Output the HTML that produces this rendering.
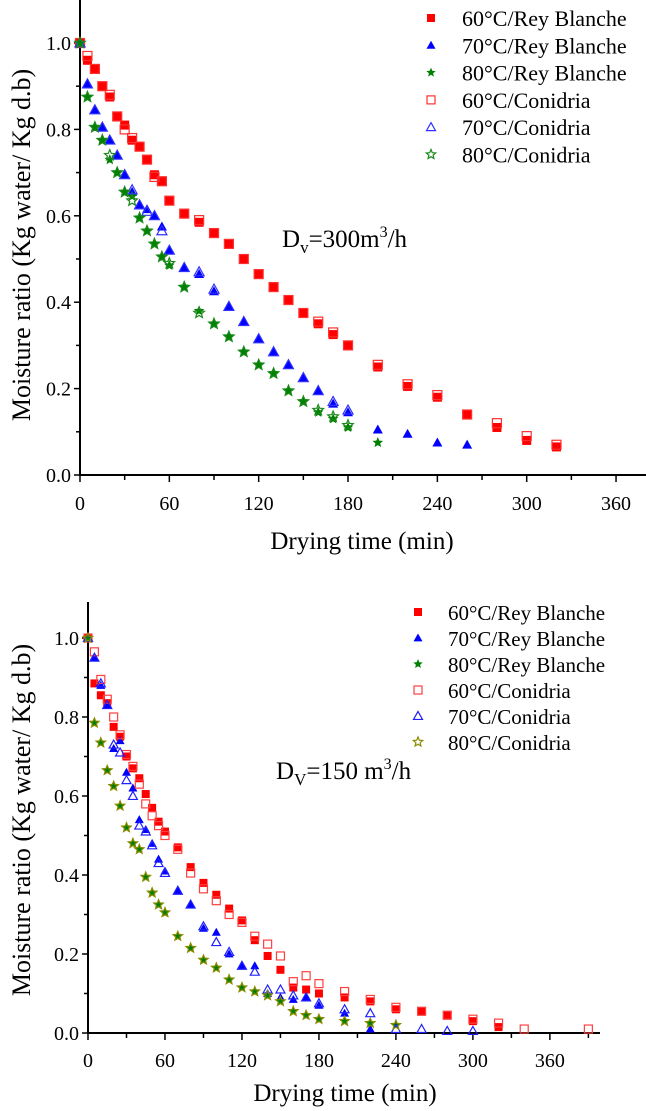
<!DOCTYPE html>
<html><head><meta charset="utf-8">
<style>
html,body{margin:0;padding:0;background:#fff;}
svg{display:block;font-family:"Liberation Serif",serif;}
</style></head>
<body>
<svg id="chart" width="646" height="1111" viewBox="0 0 646 1111" xmlns="http://www.w3.org/2000/svg"></svg>
<script>
// ---- Top panel data (Dv=300 m3/h) ----
const topT60 = [0,5,10,15,20,25,30,35,40,45,50,55,60,70,80,90,100,110,120,130,140,150,160,170,180,200,220,240,260,280,300,320];
const topRB60 = [1.0,.96,.94,.90,.875,.83,.81,.775,.76,.73,.695,.68,.635,.605,.585,.56,.535,.50,.465,.435,.405,.375,.35,.325,.30,.25,.205,.18,.14,.11,.08,.065];
const topCo60 = [1.0,.97,.94,.90,.88,.83,.80,.78,.76,.73,.69,.68,.635,.605,.59,.56,.535,.50,.465,.435,.405,.375,.355,.33,.30,.255,.21,.185,.14,.12,.09,.07];
const topT70 = [0,5,10,15,20,25,30,35,40,45,50,55,60,70,80,90,100,110,120,130,140,150,160,170,180,200,220,240,260];
const topRB70 = [1.0,.905,.845,.805,.775,.74,.695,.655,.625,.615,.60,.575,.52,.48,.465,.425,.39,.355,.315,.285,.255,.225,.195,.165,.145,.105,.095,.075,.07];
const topCo70 = [1.0,.905,.845,.805,.775,.74,.695,.66,.625,.61,.60,.565,.52,.48,.47,.43,.39,.355,.315,.285,.255,.225,.195,.17,.15];
const topT80 = [0,5,10,15,20,25,30,35,40,45,50,55,60,70,80,90,100,110,120,130,140,150,160,170,180,200];
const topRB80 = [1.0,.875,.805,.775,.73,.70,.655,.645,.595,.565,.535,.505,.485,.435,.38,.35,.32,.285,.255,.235,.195,.17,.145,.13,.11,.075];
const topCo80 = [1.0,.875,.805,.775,.74,.70,.655,.635,.595,.565,.535,.505,.49,.435,.375,.35,.32,.285,.255,.235,.195,.17,.15,.135,.115];

// ---- Bottom panel data (Dv=150 m3/h) ----
const botTRB60 = [0,5,10,15,20,25,30,35,40,45,50,55,60,70,80,90,100,110,120,130,140,150,160,170,180,200,220,240,260,280,300,320];
const botRB60 = [1.0,.885,.855,.835,.775,.75,.70,.67,.645,.605,.57,.535,.51,.47,.42,.38,.35,.315,.285,.235,.195,.16,.115,.11,.10,.09,.08,.06,.055,.045,.03,.015];
const botTCo60 = [0,5,10,15,20,25,30,35,40,45,50,55,60,70,80,90,100,110,120,130,140,150,160,170,180,200,220,240,260,280,300,320,340,390];
const botCo60 = [1.0,.965,.895,.845,.80,.755,.705,.675,.63,.58,.55,.525,.50,.465,.405,.365,.335,.30,.28,.245,.225,.195,.13,.145,.125,.105,.085,.065,.055,.045,.035,.025,.01,.01];
const botTRB70 = [0,5,10,15,20,25,30,35,40,45,50,55,60,70,80,90,100,110,120,130,140,150,160,170,180,200,220];
const botRB70 = [1.0,.95,.88,.83,.72,.74,.66,.62,.54,.515,.48,.44,.41,.36,.325,.265,.255,.20,.17,.17,.10,.09,.085,.09,.07,.05,.01];
const botTCo70 = [0,5,10,15,20,25,30,35,40,45,50,55,60,70,80,90,100,110,120,130,140,150,160,170,180,200,220,240,260,280,300];
const botCo70 = [1.0,.95,.885,.83,.73,.71,.64,.60,.525,.51,.475,.43,.405,.36,.325,.27,.23,.205,.17,.155,.11,.11,.095,.09,.075,.06,.05,.01,.01,.005,.005];
const botT80 = [0,5,10,15,20,25,30,35,40,45,50,55,60,70,80,90,100,110,120,130,140,150,160,170,180,200,220,240];
const botRB80 = [1.0,.785,.735,.665,.625,.575,.52,.48,.465,.395,.355,.325,.305,.245,.215,.185,.165,.135,.115,.105,.095,.08,.055,.045,.035,.03,.025,.02];
const botCo80 = [1.0,.785,.735,.665,.625,.575,.52,.48,.465,.395,.355,.325,.305,.245,.215,.185,.165,.135,.115,.105,.095,.08,.055,.045,.035,.03,.025,.02];

const xTicks = [0,60,120,180,240,300,360];
const yTicks = [0.0,0.2,0.4,0.6,0.8,1.0];
const legendLabels = ["60°C/Rey Blanche","70°C/Rey Blanche","80°C/Rey Blanche","60°C/Conidria","70°C/Conidria","80°C/Conidria"];

const NS = "http://www.w3.org/2000/svg";
const svg = document.getElementById('chart');
function mk(tag, attrs, parent){
  const e = document.createElementNS(NS, tag);
  for (const k in attrs) e.setAttribute(k, attrs[k]);
  (parent||svg).appendChild(e);
  return e;
}
function starPts(cx,cy,r){
  let p=[];
  for(let i=0;i<10;i++){
    const a=-Math.PI/2+i*Math.PI/5, rr=(i%2?r*0.45:r);
    p.push((cx+rr*Math.cos(a)).toFixed(1)+","+(cy+rr*Math.sin(a)).toFixed(1));
  }
  return p.join(" ");
}
function marker(g, type, cx, cy, s, color, filled, name){
  let e;
  if(type==='sq'){
    e = mk('rect',{x:cx-s/2,y:cy-s/2,width:s,height:s},g);
  } else if(type==='tri'){
    const h=s*0.95;
    e = mk('polygon',{points:`${cx},${cy-h*0.6} ${cx-s/2-0.5},${cy+h*0.45} ${cx+s/2+0.5},${cy+h*0.45}`},g);
  } else {
    e = mk('polygon',{points:starPts(cx,cy,s*0.62)},g);
  }
  if(filled){ e.setAttribute('fill',color); e.setAttribute('stroke','none'); }
  else { e.setAttribute('fill','none'); e.setAttribute('stroke',color); e.setAttribute('stroke-width','1.2'); }
  
  
  return e;
}

function panel(cfg){
  const g = mk('g',{});
  
  
  const X = t => cfg.x0 + t*cfg.xs;
  const Y = v => cfg.y0 - v*cfg.ys;
  const ax = mk('path',{d:`M${cfg.x0},${cfg.yTop} L${cfg.x0},${cfg.y0} L${cfg.xRight},${cfg.y0}`,fill:'none',stroke:'#000','stroke-width':2},g);
  
  
  for(let t=0;t<=cfg.xMax;t+=30){
    const major = t%60===0;
    mk('line',{x1:X(t),x2:X(t),y1:cfg.y0,y2:cfg.y0+(major?7:5),stroke:'#000','stroke-width':1.5},g);
  }
  xTicks.forEach(t=>{
    const tx = mk('text',{x:X(t),y:cfg.y0+cfg.tickDy,'text-anchor':'middle','font-size':20},g);
    tx.textContent = t;
    
    
  });
  for(let v=0;v<=1.0001;v+=0.1){
    const major = Math.round(v*10)%2===0;
    mk('line',{x1:cfg.x0-(major?6:4),x2:cfg.x0,y1:Y(v),y2:Y(v),stroke:'#000','stroke-width':1.5},g);
  }
  yTicks.forEach(v=>{
    const tx = mk('text',{x:cfg.x0-9,y:Y(v)+7,'text-anchor':'end','font-size':20},g);
    tx.textContent = v.toFixed(1);
    
    
  });
  const xt = mk('text',{x:cfg.xLabelX,y:cfg.xLabelY,'text-anchor':'middle','font-size':25},g);
  xt.textContent = 'Drying time (min)';
  
  
  const yt = mk('text',{x:0,y:0,'text-anchor':'middle','font-size':26,transform:`translate(${cfg.yLabelX},${cfg.yLabelY}) rotate(-90)`},g);
  yt.textContent = 'Moisture ratio (Kg water/ Kg d.b)';
  
  
  const an = mk('text',{x:cfg.annX,y:cfg.annY,'font-size':25},g);
  an.innerHTML = cfg.ann;
  
  
  cfg.series.forEach(s=>{
    const sg = mk('g',{},g);
    
    
    s.t.forEach((t,i)=>{
      if(i>=s.v.length) return;
      marker(sg, s.type, X(t), Y(s.v[i]), cfg.ms, s.color, s.filled, 'data-point');
    });
  });
  const lg = mk('g',{},g);
  
  
  cfg.series.forEach((s,i)=>{
    const y = cfg.legY + i*cfg.legDy;
    const eg = mk('g',{},lg);
    
    
    marker(eg, s.type, cfg.legMX, y, 8, s.color, s.filled, 'legend-marker');
    const tx = mk('text',{x:cfg.legTX,y:y+8,'font-size':cfg.legFs},eg);
    tx.textContent = legendLabels[i];
    
    
  });
}

panel({name:'top-panel-300', x0:80, y0:475, xs:1.489, ys:432, yTop:0, xRight:646, xMax:380, ms:9,
  tickDy:35, xLabelX:362, xLabelY:549, yLabelX:30, yLabelY:245,
  annX:282, annY:247, ann:'D<tspan font-size="17" dy="6">v</tspan><tspan dy="-6">=300m</tspan><tspan font-size="16" dy="-10">3</tspan><tspan dy="10">/h</tspan>',
  legY:18, legDy:27.3, legMX:431, legTX:462, legFs:22,
  series:[
    {name:'series-60c-rey-blanche', t:topT60, v:topRB60, type:'sq', color:'#ff0000', filled:true},
    {name:'series-70c-rey-blanche', t:topT70, v:topRB70, type:'tri', color:'#0000ff', filled:true},
    {name:'series-80c-rey-blanche', t:topT80, v:topRB80, type:'star', color:'#008000', filled:true},
    {name:'series-60c-conidria', t:topT60, v:topCo60, type:'sq', color:'#ff3030', filled:false},
    {name:'series-70c-conidria', t:topT70, v:topCo70, type:'tri', color:'#3030ff', filled:false},
    {name:'series-80c-conidria', t:topT80, v:topCo80, type:'star', color:'#1a8a1a', filled:false}
  ]});

panel({name:'bottom-panel-150', x0:88, y0:1033, xs:1.283, ys:395, yTop:602, xRight:600, xMax:390, ms:8,
  tickDy:34, xLabelX:345, xLabelY:1101, yLabelX:30, yLabelY:820,
  annX:276, annY:779, ann:'D<tspan font-size="17" dy="6">V</tspan><tspan dy="-6">=150 m</tspan><tspan font-size="16" dy="-10">3</tspan><tspan dy="10">/h</tspan>',
  legY:612, legDy:26, legMX:418, legTX:448, legFs:21,
  series:[
    {name:'series-60c-rey-blanche', t:botTRB60, v:botRB60, type:'sq', color:'#ff0000', filled:true},
    {name:'series-70c-rey-blanche', t:botTRB70, v:botRB70, type:'tri', color:'#0000ff', filled:true},
    {name:'series-80c-rey-blanche', t:botT80, v:botRB80, type:'star', color:'#008000', filled:true},
    {name:'series-60c-conidria', t:botTCo60, v:botCo60, type:'sq', color:'#ff4040', filled:false},
    {name:'series-70c-conidria', t:botTCo70, v:botCo70, type:'tri', color:'#2020ff', filled:false},
    {name:'series-80c-conidria', t:botT80, v:botCo80, type:'star', color:'#8c8c00', filled:false}
  ]});
</script>
</body></html>
